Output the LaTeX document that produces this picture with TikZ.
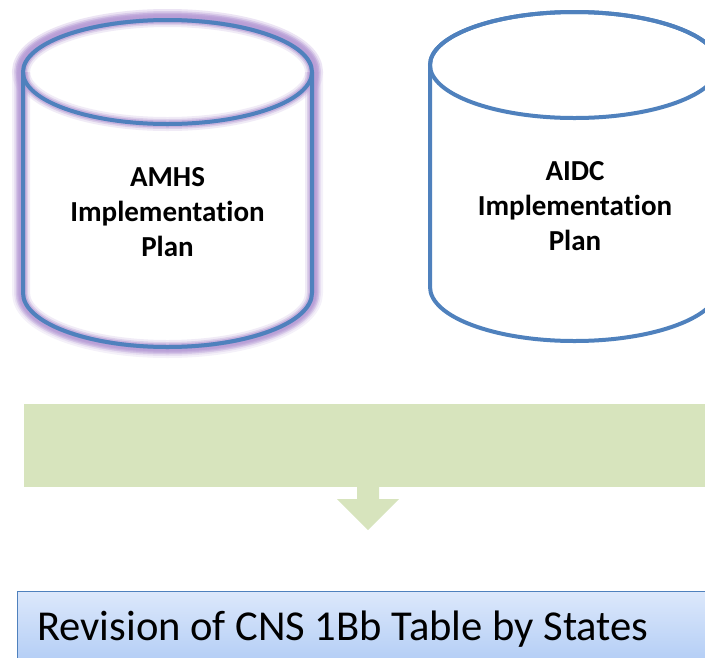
\documentclass[tikz,border=0pt]{standalone}
\usepackage{fontspec}
\setmainfont{Carlito}[Ligatures=NoCommon]
\definecolor{cylblue}{HTML}{4F81BD}
\definecolor{glow}{HTML}{B89ED6}
\definecolor{greenbar}{HTML}{D7E4BD}
\definecolor{boxtop}{HTML}{DCE8FB}
\definecolor{boxbot}{HTML}{A8C6F4}
\tikzset{
  cyltext/.style={align=center, font=\bfseries\fontsize{29}{35}\selectfont, text=black},
  cylline/.style={draw=cylblue, line width=4pt, fill=white},
}
\begin{document}
\begin{tikzpicture}[x=1pt,y=-1pt]
\useasboundingbox (0,0) rectangle (705,657);
\clip (0,0) rectangle (705,657);
% glow for first cylinder
\foreach \w/\o in {22/0.15,18/0.2,15/0.3,12/0.45,9/0.7}{
  \draw[glow, line width=\w pt, opacity=\o, line join=round]
    (23,72) -- (23,293) arc[start angle=180,end angle=0,x radius=144.5,y radius=54]
    -- (312,72) arc[start angle=0,end angle=-180,x radius=144.5,y radius=52] -- cycle;
  \draw[glow, line width=\w pt, opacity=\o] (167.5,72) ellipse[x radius=144.5, y radius=52];
}
% cylinder 1
\path[cylline] (23,72) -- (23,293) arc[start angle=180,end angle=0,x radius=144.5,y radius=54]
  -- (312,72) arc[start angle=0,end angle=-180,x radius=144.5,y radius=52] -- cycle;
\foreach \w/\o in {14/0.2,10/0.35,7/0.6}{
  \draw[glow, line width=\w pt, opacity=\o] (23,72) -- (23,293) arc[start angle=180,end angle=0,x radius=144.5,y radius=54] -- (312,72);
  \draw[glow, line width=\w pt, opacity=\o] (167.5,72) ellipse[x radius=144.5, y radius=52];
}
\draw[cylblue, line width=4pt] (23,72) -- (23,293) arc[start angle=180,end angle=0,x radius=144.5,y radius=54] -- (312,72);
\draw[cylblue, line width=4pt] (167.5,72) ellipse[x radius=144.5, y radius=52];
\node[cyltext] (amhs) at (167.5,212) {AMHS\\Implementation\\Plan};
% cylinder 2
\path[cylline] (430,65) -- (430,287) arc[start angle=180,end angle=0,x radius=144.5,y radius=54]
  -- (719,65) arc[start angle=0,end angle=-180,x radius=144.5,y radius=53] -- cycle;
\draw[cylblue, line width=4pt] (574.5,65) ellipse[x radius=144.5, y radius=53];
\node[cyltext] (aidc) at (575,206) {AIDC\\Implementation\\Plan};
% green bar
\node[fill=greenbar, minimum width=700pt, minimum height=83pt, inner sep=0pt, anchor=north west] (bar) at (24,404) {};
\fill[greenbar] (357,486) -- (357,499) -- (337,499) -- (368,530) -- (399,499) -- (379,499) -- (379,486) -- cycle;
% blue box
\node[top color=boxtop, bottom color=boxbot, draw=cylblue, line width=1pt, minimum width=700pt, minimum height=90pt, inner sep=0pt, anchor=north west] (rev) at (17,591) {};
\node[anchor=west, font=\fontsize{42.6}{48}\selectfont, text=black, inner sep=0pt] (revtext) at (37,629) {Revision of CNS 1Bb Table by States};
\end{tikzpicture}
\end{document}
